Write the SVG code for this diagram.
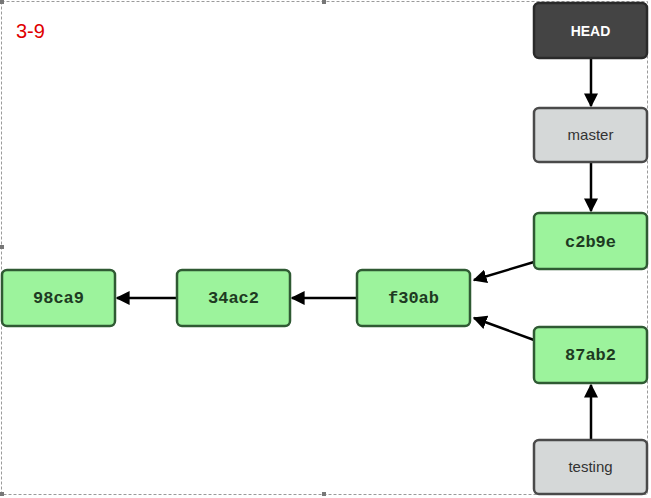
<svg xmlns="http://www.w3.org/2000/svg" width="651" height="498" viewBox="0 0 651 498">
<defs>
<marker id="ah" viewBox="0 0 10 10" refX="9" refY="5" markerWidth="14" markerHeight="14" markerUnits="userSpaceOnUse" orient="auto">
<path d="M0,0 L10,5 L0,10 z" fill="#000"/>
</marker>
<style>
.frame{fill:none;stroke:#9a9a9a;stroke-width:1;stroke-dasharray:3 2}
.handle{fill:#777}
.commit rect{fill:#9cf39c;stroke:#2f5a33;stroke-width:2.5}
.commit text{font-family:"Liberation Mono",monospace;font-weight:bold;font-size:17px;fill:#1e3a22;text-anchor:middle}
.ref rect{fill:#d5d8d8;stroke:#4a4a4a;stroke-width:2.5}
.ref text{font-family:"Liberation Sans",Arial,sans-serif;font-size:15px;fill:#333;text-anchor:middle}
.head rect{fill:#444;stroke:#2a2a2a;stroke-width:2.5}
.head text{font-family:"Liberation Sans",Arial,sans-serif;font-weight:bold;font-size:14px;fill:#fff;text-anchor:middle}
.conn line{stroke:#000;stroke-width:2.5;marker-end:url(#ah)}
.label{font-family:"Liberation Sans",Arial,sans-serif;font-size:20px;fill:#e00000}
</style>
</defs>
<rect width="651" height="498" fill="#fff"/>
<rect class="frame" x="1.5" y="1.5" width="646" height="493"/>
<rect class="handle" x="0" y="0" width="4" height="4"/>
<rect class="handle" x="322" y="0" width="4" height="4"/>
<rect class="handle" x="0" y="245" width="4" height="4"/>
<rect class="handle" x="0" y="492" width="4" height="4"/>
<rect class="handle" x="322" y="492" width="4" height="4"/>
<text class="label" x="16" y="38">3-9</text>
<g id="connectors" class="conn">
<line x1="591" y1="58" x2="591" y2="106"/>
<line x1="591" y1="162" x2="591" y2="211"/>
<line x1="534" y1="262" x2="474" y2="280"/>
<line x1="534" y1="340" x2="474" y2="318"/>
<line x1="591" y1="440" x2="591" y2="385"/>
<line x1="357" y1="298" x2="292" y2="298"/>
<line x1="177" y1="298" x2="117" y2="298"/>
</g>
<g id="HEAD" class="head"><rect x="534" y="3" width="113" height="55" rx="5"/><text x="590.5" y="35.5">HEAD</text></g>
<g id="master" class="ref"><rect x="534" y="108" width="113" height="54" rx="5"/><text x="590.5" y="140">master</text></g>
<g id="c2b9e" class="commit"><rect x="534" y="213" width="113" height="56" rx="5"/><text x="590.5" y="247">c2b9e</text></g>
<g id="87ab2" class="commit"><rect x="534" y="327" width="113" height="56" rx="5"/><text x="590.5" y="360">87ab2</text></g>
<g id="testing" class="ref"><rect x="534" y="440" width="113" height="54" rx="5"/><text x="590.5" y="472">testing</text></g>
<g id="f30ab" class="commit"><rect x="357" y="270" width="113" height="56" rx="5"/><text x="413.5" y="303">f30ab</text></g>
<g id="34ac2" class="commit"><rect x="177" y="270" width="113" height="56" rx="5"/><text x="233.5" y="303">34ac2</text></g>
<g id="98ca9" class="commit"><rect x="2" y="270" width="113" height="56" rx="5"/><text x="58.5" y="303">98ca9</text></g>
</svg>
